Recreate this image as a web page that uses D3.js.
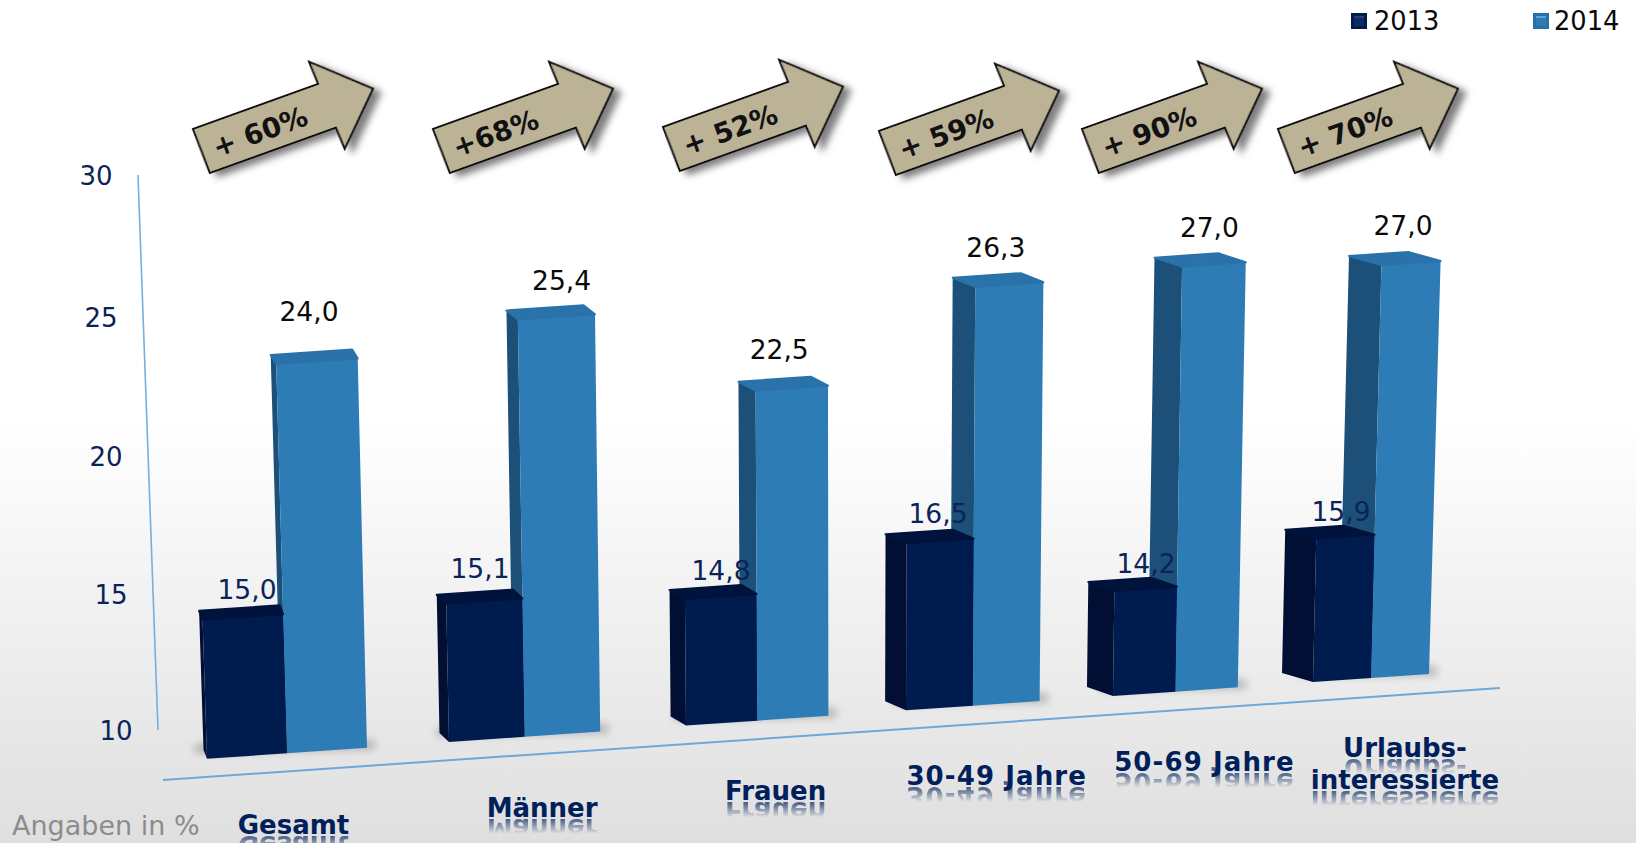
<!DOCTYPE html>
<html>
<head>
<meta charset="utf-8">
<script src="https://cdn.jsdelivr.net/npm/d3@7"></script>
<style>
  html, body { margin: 0; padding: 0; overflow: hidden; background: #fff; }
  text { font-family: "DejaVu Sans", Verdana, sans-serif; }
</style>
</head>
<body>
<script>
// chart values
let Categories = [["Gesamt"], ["Männer"], ["Frauen"], ["30-49 Jahre"], ["50-69 Jahre"], ["Urlaubs-", "interessierte"]];
let Values2013 = [15.0, 15.1, 14.8, 16.5, 14.2, 15.9];
let Values2014 = [24.0, 25.4, 22.5, 26.3, 27.0, 27.0];
let ArrowLabels = ["+ 60%", "+68%", "+ 52%", "+ 59%", "+ 90%", "+ 70%"];
let YTicks = [10, 15, 20, 25, 30];
let SeriesNames = ["2013", "2014"];

let SvgWidth = 1636;
let SvgHeight = 843;

let Svg = d3.select("body")
    .append("svg")
    .attr("width", SvgWidth)
    .attr("height", SvgHeight)
    .style("display", "block");

let Defs = Svg.append("defs");

let BgGradient = Defs.append("linearGradient")
    .attr("id", "bg").attr("x1", 0).attr("x2", 0).attr("y1", 0).attr("y2", 1);
BgGradient.append("stop").attr("offset", "50%").attr("stop-color", "#ffffff");
BgGradient.append("stop").attr("offset", "100%").attr("stop-color", "#dfdfdf");

// fade for the mirrored category labels
let Fade = Defs.append("linearGradient")
    .attr("id", "fade").attr("x1", 0).attr("x2", 0).attr("y1", 0).attr("y2", 1);
Fade.append("stop").attr("offset", "30%").attr("stop-color", "#000");
Fade.append("stop").attr("offset", "78%").attr("stop-color", "#aaa");

Defs.append("mask").attr("id", "fadeMask")
    .attr("maskContentUnits", "objectBoundingBox")
    .append("rect").attr("width", 1).attr("height", 1).attr("fill", "url(#fade)");

let ArrowShadow = Defs.append("filter").attr("id", "arrowShadow")
    .attr("x", "-20%").attr("y", "-20%").attr("width", "140%").attr("height", "140%");
ArrowShadow.append("feDropShadow")
    .attr("dx", 6).attr("dy", 6).attr("stdDeviation", 3.5)
    .attr("flood-color", "#000").attr("flood-opacity", 0.5);

Defs.append("filter").attr("id", "blur")
    .attr("x", "-30%").attr("y", "-200%").attr("width", "160%").attr("height", "500%")
    .append("feGaussianBlur").attr("stdDeviation", 4);

Svg.append("rect")
    .attr("width", SvgWidth)
    .attr("height", SvgHeight)
    .attr("fill", "url(#bg)");

// the picture is a tilted 3d chart, so everything hangs off a few perspective scales
let Index = d3.range(Categories.length);

let xBar = d3.scaleLinear().domain(Index).range([207, 449, 686, 906, 1113, 1313]);
let barWidth = d3.scaleLinear().domain([0, 5]).range([80, 58]);
let unitHeight = d3.scaleLinear().domain([0, 5]).range([27.8, 24.3]);
let floorY = d3.scaleLinear().domain([287, 1369]).range([753.3, 678.2]);
let sideDepth = d3.scaleLinear().domain([207, 1313]).range([3.5, 31]);
let spread = d3.scaleLinear().domain([364, 1427]).range([-0.024, 0.028]);

let CapRise = 9;
let line = d3.line();

function barShape(x0, width, value, i) {
    let x1 = x0 + width;
    let h = (value - 10) * unitHeight(i);
    let bl = [x0, floorY(x0)];
    let br = [x1, floorY(x1)];
    let tl = [x0 + spread(x0) * h, bl[1] - h];
    let tr = [x1 + spread(x1) * h, br[1] - h];
    let d = sideDepth(x0);
    return {
        front: [bl, br, tr, tl],
        side: [bl, [x0 - d, bl[1] - CapRise], [tl[0] - d, tl[1] - CapRise], tl],
        cap: [tl, tr, [tr[0] - d, tr[1] - CapRise], [tl[0] - d, tl[1] - CapRise]],
        capTop: tl[1] - CapRise
    };
}

function drawBar(group, shape, colors) {
    group.append("path").attr("d", line(shape.side) + "Z").attr("fill", colors.side);
    group.append("path").attr("d", line(shape.front) + "Z").attr("fill", colors.front);
    group.append("path").attr("d", line(shape.cap) + "Z")
        .attr("fill", colors.cap)
        .attr("stroke", colors.cap)
        .attr("stroke-width", 2)
        .attr("stroke-linejoin", "round");
}

let Colors2013 = { front: "#001c4f", side: "#000f33", cap: "#00133d" };
let Colors2014 = { front: "#2e7cb6", side: "#1d5078", cap: "#2a72aa" };

// axes
let yAxisY = d3.scaleLinear().domain([10, 30]).range([730, 175]);
let yAxisX = d3.scaleLinear().domain([10, 30]).range([158, 138]);
let yLabelX = d3.scaleLinear().domain([10, 30]).range([116, 96]);
let yLabelY = d3.scaleLinear().domain(YTicks).range([730, 594, 456, 317, 175]);

Svg.append("line")
    .attr("x1", yAxisX(10)).attr("y1", yAxisY(10))
    .attr("x2", yAxisX(30)).attr("y2", yAxisY(30))
    .attr("stroke", "#79aedb").attr("stroke-width", 1.6);

Svg.append("line")
    .attr("x1", 163).attr("y1", floorY(163) + 18)
    .attr("x2", 1500).attr("y2", floorY(1500) + 19)
    .attr("stroke", "#6fa8d8").attr("stroke-width", 2);

Svg.selectAll(".ytick")
    .data(YTicks)
    .enter()
    .append("text")
    .attr("class", "ytick")
    .attr("x", d => yLabelX(d))
    .attr("y", d => yLabelY(d) + 10)
    .attr("text-anchor", "middle")
    .attr("font-size", 26)
    .attr("fill", "#0b2358")
    .text(d => d);

// bars, back row first
let fmt = d => d.toFixed(1).replace(".", ",");
let Nudge2014 = [[-6, -18], [9, -4], [-6, -7], [-5, -5], [6, -5], [4, -5]];
let Nudge2013 = [[7, -5], [-2, -10], [2, -3], [-1, -4], [0, -2], [-5, -2]];
let NudgeCategory = [0, 5, 0, 0, 0, 0];
let BarGroup = Svg.append("g");
let LabelGroup = Svg.append("g");

Index.forEach(function (i) {
    let w = barWidth(i);
    let x2013 = xBar(i);
    let x2014 = x2013 + w;

    BarGroup.append("path")
        .attr("d", line([[x2013 - 12, floorY(x2013) - 6], [x2014 + w + 8, floorY(x2014 + w) + 1], [x2014 + w + 8, floorY(x2014 + w) - 7], [x2013 - 12, floorY(x2013) - 14]]) + "Z")
        .attr("fill", "#777")
        .attr("opacity", 0.55)
        .attr("filter", "url(#blur)");

    let Back = barShape(x2014, w, Values2014[i], i);
    let Front = barShape(x2013, w, Values2013[i], i);
    drawBar(BarGroup, Back, Colors2014);
    drawBar(BarGroup, Front, Colors2013);

    LabelGroup.append("text")
        .attr("x", x2014 + 28 + Nudge2014[i][0])
        .attr("y", Back.capTop - 16 + Nudge2014[i][1])
        .attr("text-anchor", "middle")
        .attr("font-size", 26.5)
        .attr("fill", "#0a0a0a")
        .text(fmt(Values2014[i]));

    LabelGroup.append("text")
        .attr("x", x2013 + 33 + Nudge2013[i][0])
        .attr("y", Front.capTop - 7 + Nudge2013[i][1])
        .attr("text-anchor", "middle")
        .attr("font-size", 26.5)
        .attr("fill", "#0b2358")
        .text(fmt(Values2013[i]));

    // category label with its mirror image underneath
    let cx = x2014 + sideDepth(x2013) + 3 + NudgeCategory[i];
    let base = floorY(cx) + 81;
    Categories[i].forEach(function (t, k) {
        let y = base + k * 32;
        let id = `cat${i}_${k}`;
        Svg.append("text")
            .attr("id", id)
            .attr("x", 0)
            .attr("y", 0)
            .attr("transform", `translate(${cx},${y})`)
            .attr("text-anchor", "middle")
            .attr("font-size", 26)
            .attr("font-weight", "bold")
            .attr("letter-spacing", /^\d/.test(t) ? 1.1 : 0)
            .attr("fill", "#00205b")
            .text(t);
        Svg.append("use")
            .attr("href", "#" + id)
            .attr("transform", `translate(0,${2 * y + 2}) scale(1,-1)`)
            .attr("mask", "url(#fadeMask)");
    });
});

// trend arrows
let ArrowX = [193, 433, 663, 879, 1082, 1278];
let ArrowY = [129, 129, 127, 131, 129, 129];
let ArrowAngle = -19.8;
let ArrowShape = [[0, 0], [133, 0], [132, -24], [183, 23], [136, 70], [135, 47], [1, 47]];

ArrowLabels.forEach(function (t, i) {
    let g = Svg.append("g")
        .attr("transform", `translate(${ArrowX[i]},${ArrowY[i]}) rotate(${ArrowAngle})`);
    g.append("path")
        .attr("d", line(ArrowShape) + "Z")
        .attr("fill", "#bcb396")
        .attr("stroke", "#111")
        .attr("stroke-width", 2)
        .attr("stroke-linejoin", "miter")
        .attr("filter", "url(#arrowShadow)");
    g.append("text")
        .attr("x", 13)
        .attr("y", 35)
        .attr("font-size", 27.5)
        .attr("font-weight", "bold")
        .attr("fill", "#111")
        .text(t);
});

// legend
let LegendX = [1351, 1533];
let LegendTextX = [1374, 1554];
let LegendColors = [
    { fill: "#0d2a63", edge: "#001c4f", glow: "#24407c" },
    { fill: "#2e7cb6", edge: "#2a6fa6", glow: "#5aa6dc" }
];
SeriesNames.forEach(function (name, i) {
    Svg.append("rect")
        .attr("x", LegendX[i]).attr("y", 13).attr("width", 16).attr("height", 16)
        .attr("fill", LegendColors[i].edge);
    Svg.append("rect")
        .attr("x", LegendX[i] + 3).attr("y", 16).attr("width", 10).attr("height", 10)
        .attr("fill", LegendColors[i].fill);
    Svg.append("rect")
        .attr("x", LegendX[i] + 3).attr("y", 16).attr("width", 10).attr("height", 2)
        .attr("fill", LegendColors[i].glow);
    Svg.append("text")
        .attr("x", LegendTextX[i])
        .attr("y", 30)
        .attr("font-size", 25.7)
        .attr("fill", "#0a0a0a")
        .text(name);
});

Svg.append("text")
    .attr("x", 12)
    .attr("y", 835)
    .attr("font-size", 27)
    .attr("fill", "#8c8c8c")
    .text("Angaben in %");
</script>
</body>
</html>
